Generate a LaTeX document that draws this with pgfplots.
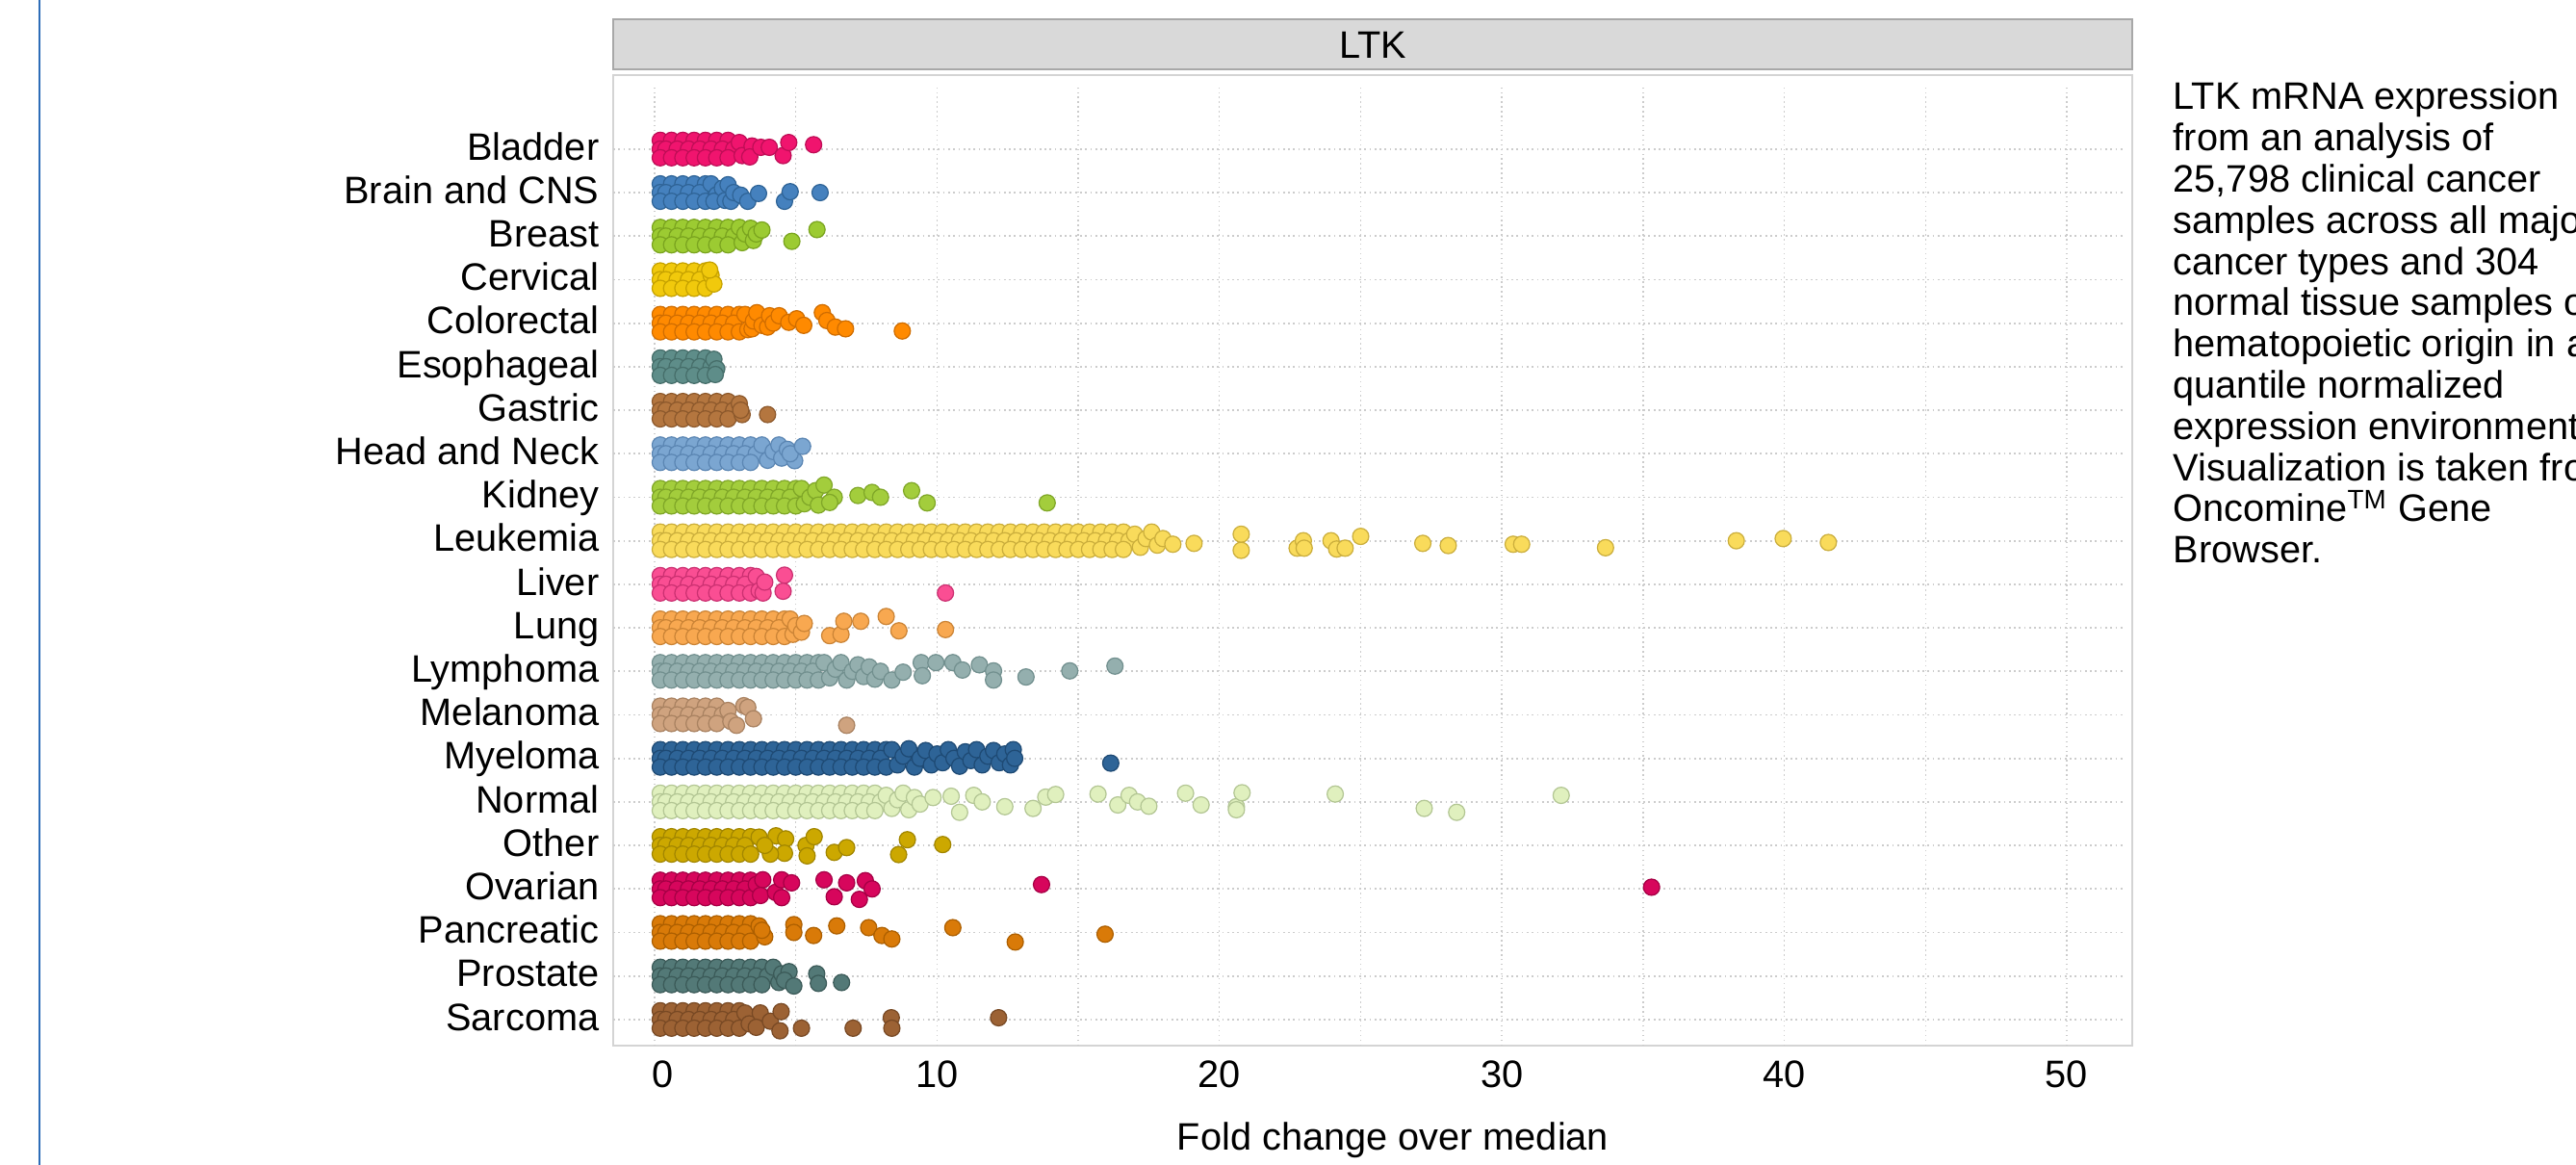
\documentclass[border=0pt]{standalone}
\usepackage{pgfplots}
\pgfplotsset{compat=1.18}
\usepackage{fontspec}
\setmainfont{Liberation Sans}
\definecolor{cBla}{HTML}{F0146E}\definecolor{dBla}{HTML}{BF0D56}
\definecolor{cBra}{HTML}{4581BE}\definecolor{dBra}{HTML}{2F6497}
\definecolor{cBre}{HTML}{9CCB32}\definecolor{dBre}{HTML}{7AA41F}
\definecolor{cCer}{HTML}{F1C90C}\definecolor{dCer}{HTML}{C6A200}
\definecolor{cCol}{HTML}{FF8A00}\definecolor{dCol}{HTML}{D06D00}
\definecolor{cEso}{HTML}{5E8D89}\definecolor{dEso}{HTML}{466E6A}
\definecolor{cGas}{HTML}{B4763F}\definecolor{dGas}{HTML}{8D592C}
\definecolor{cHea}{HTML}{7BA6D1}\definecolor{dHea}{HTML}{5B86B3}
\definecolor{cKid}{HTML}{A3CD3C}\definecolor{dKid}{HTML}{80A728}
\definecolor{cLeu}{HTML}{F9DB5B}\definecolor{dLeu}{HTML}{CBAE3C}
\definecolor{cLiv}{HTML}{FA4E93}\definecolor{dLiv}{HTML}{CB3071}
\definecolor{cLun}{HTML}{F8A850}\definecolor{dLun}{HTML}{CB8436}
\definecolor{cLym}{HTML}{94AFAE}\definecolor{dLym}{HTML}{72908F}
\definecolor{cMel}{HTML}{CFA37F}\definecolor{dMel}{HTML}{A98261}
\definecolor{cMye}{HTML}{2E6497}\definecolor{dMye}{HTML}{1E4A74}
\definecolor{cNor}{HTML}{E0F0BE}\definecolor{dNor}{HTML}{B3C694}
\definecolor{cOth}{HTML}{CCA800}\definecolor{dOth}{HTML}{A28600}
\definecolor{cOva}{HTML}{D7065C}\definecolor{dOva}{HTML}{A60045}
\definecolor{cPan}{HTML}{D97A08}\definecolor{dPan}{HTML}{AD5F00}
\definecolor{cPro}{HTML}{537977}\definecolor{dPro}{HTML}{3B5A58}
\definecolor{cSar}{HTML}{9C6234}\definecolor{dSar}{HTML}{784924}
\definecolor{stripfill}{HTML}{D9D9D9}\definecolor{stripdraw}{HTML}{A8A8A8}
\definecolor{panelborder}{HTML}{D4D4D4}\definecolor{gridc}{HTML}{CCCCCC}
\definecolor{leftblue}{HTML}{2E6DB8}
\pgfplotsset{pt/.style 2 args={only marks, mark=*, mark size=2.4pt, mark options={fill=#1, draw=#2, line width=0.35pt}}}
\begin{document}
\begin{tikzpicture}[font=\fontsize{11.3pt}{12.2pt}\selectfont]
\path[use as bounding box] (0,0) rectangle (267.6mm,121mm);
\draw[leftblue, line width=0.25mm] (4.1mm,0) -- (4.1mm,121mm);
\filldraw[fill=stripfill, draw=stripdraw, line width=0.2mm] (63.7mm,113.8mm) rectangle (221.5mm,118.95mm);
\node[inner sep=0pt] at (142.6mm,116.3mm) {LTK};
\begin{axis}[
  at={(63.7mm,12.4mm)}, anchor=south west, scale only axis,
  width=157.8mm, height=100.8mm,
  xmin=-1.466, xmax=52.32, ymin=-0.6, ymax=21.7,
  axis line style={draw=panelborder, line width=0.2mm},
  xtick={0.3,10,20,30,40,50},
  xticklabels={0,10,20,30,40,50},
  ytick={0,1,...,20},
  yticklabels={Sarcoma,Prostate,Pancreatic,Ovarian,Other,Normal,Myeloma,Melanoma,Lymphoma,Lung,Liver,Leukemia,Kidney,Head and Neck,Gastric,Esophageal,Colorectal,Cervical,Breast,Brain and CNS,Bladder},
  major tick length=0pt, tick style={draw=none},
  xticklabel style={anchor=base, yshift=-4.4mm, inner sep=0pt},
  yticklabel style={anchor=base east, xshift=-1.4mm, yshift=-1.13mm, inner sep=0pt},
]
\pgfplotsinvokeforeach{0,5,10,15,20,25,30,35,40,45,50}{\draw[gridc, densely dotted, line width=0.4pt] (axis cs:#1,-0.6) -- (axis cs:#1,21.43);}
\pgfplotsinvokeforeach{0,1,...,20}{\draw[gridc, densely dotted, line width=0.5pt] (axis cs:-1.466,#1) -- (axis cs:52.0,#1);}
% Bladder
\addplot[pt={cBla}{dBla}] coordinates {(0.2,20.2)(0.6,20.2)(1.0,20.2)(1.4,20.2)(1.8,20.2)(2.2,20.2)(2.6,20.2)
(0.2,20)(0.4,20)(0.8,20)(1.2,20)(1.6,20)(2.0,20)(2.4,20)(2.8,20)
(0.2,19.8)(0.6,19.8)(1.0,19.8)(1.4,19.8)(1.8,19.8)(2.2,19.8)(2.6,19.8)
(3.0,20.15)(3.1,19.85)(3.45,20.07)(3.37,19.82)(3.76,20.04)(4.06,20.04)(4.55,19.85)(4.75,20.15)(5.63,20.1)};
% Brain and CNS
\addplot[pt={cBra}{dBra}] coordinates {(0.2,19.2)(0.6,19.2)(1.0,19.2)(1.4,19.2)(1.8,19.2)
(0.2,19)(0.4,19)(0.8,19)(1.2,19)(1.6,19)
(0.2,18.8)(0.6,18.8)(1.0,18.8)(1.4,18.8)(1.8,18.8)
(2.0,19.2)(2.2,18.95)(2.1,18.8)(2.4,19.1)(2.5,18.82)(2.6,19.18)(2.7,18.8)(2.8,19.0)(3.05,18.94)(3.3,18.8)(3.68,18.98)(4.6,18.8)(4.8,19.02)(5.86,19.0)};
% Breast
\addplot[pt={cBre}{dBre}] coordinates {(0.2,18.2)(0.6,18.2)(1.0,18.2)(1.4,18.2)(1.8,18.2)(2.2,18.2)(2.6,18.2)
(0.2,18)(0.4,18)(0.8,18)(1.2,18)(1.6,18)(2.0,18)(2.4,18)(2.8,18)
(0.2,17.8)(0.6,17.8)(1.0,17.8)(1.4,17.8)(1.8,17.8)(2.2,17.8)(2.6,17.8)
(3.0,18.2)(3.1,17.85)(3.2,18.05)(3.4,18.18)(3.5,17.9)(3.6,18.05)(3.8,18.14)(4.86,17.88)(5.75,18.15)};
% Cervical
\addplot[pt={cCer}{dCer}] coordinates {(0.2,17.2)(0.6,17.2)(1.0,17.2)(1.4,17.2)(1.8,17.2)
(0.2,17)(0.4,17)(0.8,17)(1.2,17)(1.6,17)
(0.2,16.8)(0.6,16.8)(1.0,16.8)(1.4,16.8)(1.8,16.8)
(2.0,17.1)(2.1,16.9)(1.95,17.22)};
% Colorectal
\addplot[pt={cCol}{dCol}] coordinates {(0.2,16.2)(0.6,16.2)(1.0,16.2)(1.4,16.2)(1.8,16.2)(2.2,16.2)(2.6,16.2)(3.0,16.2)
(0.2,16)(0.4,16)(0.8,16)(1.2,16)(1.6,16)(2.0,16)(2.4,16)(2.8,16)
(0.2,15.8)(0.6,15.8)(1.0,15.8)(1.4,15.8)(1.8,15.8)(2.2,15.8)(2.6,15.8)(3.0,15.8)
(3.2,16.2)(3.3,15.85)(3.45,15.87)(3.5,16.05)(3.62,16.24)(3.8,15.95)(4.0,15.91)(4.07,16.17)(4.2,16.0)(4.41,16.17)(4.75,16.02)(5.03,16.1)(5.28,15.95)(5.94,16.24)(6.1,16.06)(6.4,15.91)(6.76,15.87)(8.77,15.82)};
% Esophageal
\addplot[pt={cEso}{dEso}] coordinates {(0.2,15.2)(0.6,15.2)(1.0,15.2)(1.4,15.2)(1.8,15.2)
(0.2,15)(0.4,15)(0.8,15)(1.2,15)(1.6,15)(2.0,15)
(0.2,14.8)(0.6,14.8)(1.0,14.8)(1.4,14.8)(1.8,14.8)
(2.1,15.17)(2.2,14.95)(2.15,14.82)};
% Gastric
\addplot[pt={cGas}{dGas}] coordinates {(0.2,14.2)(0.6,14.2)(1.0,14.2)(1.4,14.2)(1.8,14.2)(2.2,14.2)(2.6,14.2)
(0.2,14)(0.4,14)(0.8,14)(1.2,14)(1.6,14)(2.0,14)(2.4,14)(2.8,14)
(0.2,13.8)(0.6,13.8)(1.0,13.8)(1.4,13.8)(1.8,13.8)(2.2,13.8)(2.6,13.8)
(3.0,14.15)(3.1,13.9)(3.05,14.0)(4.0,13.9)};
% Head and Neck
\addplot[pt={cHea}{dHea}] coordinates {(0.2,13.2)(0.6,13.2)(1.0,13.2)(1.4,13.2)(1.8,13.2)(2.2,13.2)(2.6,13.2)(3.0,13.2)(3.4,13.2)
(0.2,13)(0.4,13)(0.8,13)(1.2,13)(1.6,13)(2.0,13)(2.4,13)(2.8,13)(3.2,13)(3.6,13)
(0.2,12.8)(0.6,12.8)(1.0,12.8)(1.4,12.8)(1.8,12.8)(2.2,12.8)(2.6,12.8)(3.0,12.8)(3.4,12.8)
(3.8,13.2)(4.0,12.85)(4.2,13.05)(4.4,13.2)(4.5,12.9)(4.7,13.1)(4.96,12.84)(4.8,13.0)(5.24,13.17)};
% Kidney
\addplot[pt={cKid}{dKid}] coordinates {(0.2,12.2)(0.6,12.2)(1.0,12.2)(1.4,12.2)(1.8,12.2)(2.2,12.2)(2.6,12.2)(3.0,12.2)(3.4,12.2)(3.8,12.2)(4.2,12.2)(4.6,12.2)(5.0,12.2)
(0.2,12)(0.4,12)(0.8,12)(1.2,12)(1.6,12)(2.0,12)(2.4,12)(2.8,12)(3.2,12)(3.6,12)(4.0,12)(4.4,12)(4.8,12)
(0.2,11.8)(0.6,11.8)(1.0,11.8)(1.4,11.8)(1.8,11.8)(2.2,11.8)(2.6,11.8)(3.0,11.8)(3.4,11.8)(3.8,11.8)(4.2,11.8)(4.6,11.8)(5.0,11.8)
(5.2,12.2)(5.3,11.85)(5.5,12.0)(5.7,12.15)(5.8,11.82)(6.0,12.28)(6.36,12.0)(6.2,11.88)(7.2,12.04)(7.7,12.11)(8.0,12.0)(9.1,12.15)(9.65,11.87)(13.9,11.87)};
% Leukemia
\addplot[pt={cLeu}{dLeu}] coordinates {(0.2,11.2)(0.6,11.2)(1.0,11.2)(1.4,11.2)(1.8,11.2)(2.2,11.2)(2.6,11.2)(3.0,11.2)(3.4,11.2)(3.8,11.2)(4.2,11.2)(4.6,11.2)(5.0,11.2)(5.4,11.2)(5.8,11.2)(6.2,11.2)(6.6,11.2)(7.0,11.2)(7.4,11.2)(7.8,11.2)(8.2,11.2)(8.6,11.2)(9.0,11.2)(9.4,11.2)(9.8,11.2)(10.2,11.2)(10.6,11.2)(11.0,11.2)(11.4,11.2)(11.8,11.2)(12.2,11.2)(12.6,11.2)(13.0,11.2)(13.4,11.2)(13.8,11.2)(14.2,11.2)(14.6,11.2)(15.0,11.2)(15.4,11.2)(15.8,11.2)(16.2,11.2)(16.6,11.2)
(0.2,11)(0.4,11)(0.8,11)(1.2,11)(1.6,11)(2.0,11)(2.4,11)(2.8,11)(3.2,11)(3.6,11)(4.0,11)(4.4,11)(4.8,11)(5.2,11)(5.6,11)(6.0,11)(6.4,11)(6.8,11)(7.2,11)(7.6,11)(8.0,11)(8.4,11)(8.8,11)(9.2,11)(9.6,11)(10.0,11)(10.4,11)(10.8,11)(11.2,11)(11.6,11)(12.0,11)(12.4,11)(12.8,11)(13.2,11)(13.6,11)(14.0,11)(14.4,11)(14.8,11)(15.2,11)(15.6,11)(16.0,11)(16.4,11)(16.8,11)
(0.2,10.8)(0.6,10.8)(1.0,10.8)(1.4,10.8)(1.8,10.8)(2.2,10.8)(2.6,10.8)(3.0,10.8)(3.4,10.8)(3.8,10.8)(4.2,10.8)(4.6,10.8)(5.0,10.8)(5.4,10.8)(5.8,10.8)(6.2,10.8)(6.6,10.8)(7.0,10.8)(7.4,10.8)(7.8,10.8)(8.2,10.8)(8.6,10.8)(9.0,10.8)(9.4,10.8)(9.8,10.8)(10.2,10.8)(10.6,10.8)(11.0,10.8)(11.4,10.8)(11.8,10.8)(12.2,10.8)(12.6,10.8)(13.0,10.8)(13.4,10.8)(13.8,10.8)(14.2,10.8)(14.6,10.8)(15.0,10.8)(15.4,10.8)(15.8,10.8)(16.2,10.8)(16.6,10.8)
(17.0,11.15)(17.2,10.85)(17.4,11.05)(17.6,11.2)(17.8,10.9)(18.0,11.05)(18.35,10.92)(19.1,10.94)(20.77,11.15)(20.77,10.78)(22.75,10.83)(22.97,11.0)(23.0,10.83)(23.95,11.0)(24.15,10.81)(24.45,10.83)(25.0,11.1)(27.2,10.94)(28.1,10.89)(30.4,10.92)(30.7,10.92)(33.67,10.84)(38.3,11.0)(39.96,11.05)(41.56,10.96)};
% Liver
\addplot[pt={cLiv}{dLiv}] coordinates {(0.2,10.2)(0.6,10.2)(1.0,10.2)(1.4,10.2)(1.8,10.2)(2.2,10.2)(2.6,10.2)(3.0,10.2)(3.4,10.2)
(0.2,10)(0.4,10)(0.8,10)(1.2,10)(1.6,10)(2.0,10)(2.4,10)(2.8,10)(3.2,10)
(0.2,9.8)(0.6,9.8)(1.0,9.8)(1.4,9.8)(1.8,9.8)(2.2,9.8)(2.6,9.8)(3.0,9.8)(3.4,9.8)
(3.6,10.18)(3.7,9.85)(3.84,9.8)(3.9,10.05)(4.6,10.21)(4.55,9.84)(10.3,9.8)};
% Lung
\addplot[pt={cLun}{dLun}] coordinates {(0.2,9.2)(0.6,9.2)(1.0,9.2)(1.4,9.2)(1.8,9.2)(2.2,9.2)(2.6,9.2)(3.0,9.2)(3.4,9.2)(3.8,9.2)(4.2,9.2)(4.6,9.2)
(0.2,9)(0.4,9)(0.8,9)(1.2,9)(1.6,9)(2.0,9)(2.4,9)(2.8,9)(3.2,9)(3.6,9)(4.0,9)(4.4,9)
(0.2,8.8)(0.6,8.8)(1.0,8.8)(1.4,8.8)(1.8,8.8)(2.2,8.8)(2.6,8.8)(3.0,8.8)(3.4,8.8)(3.8,8.8)(4.2,8.8)(4.6,8.8)
(4.8,9.2)(4.9,8.85)(5.0,9.05)(5.2,8.9)(5.3,9.1)(6.2,8.82)(6.6,8.85)(6.7,9.15)(7.3,9.15)(8.2,9.26)(8.65,8.93)(10.3,8.96)};
% Lymphoma
\addplot[pt={cLym}{dLym}] coordinates {(0.2,8.2)(0.6,8.2)(1.0,8.2)(1.4,8.2)(1.8,8.2)(2.2,8.2)(2.6,8.2)(3.0,8.2)(3.4,8.2)(3.8,8.2)(4.2,8.2)(4.6,8.2)(5.0,8.2)(5.4,8.2)(5.8,8.2)
(0.2,8)(0.4,8)(0.8,8)(1.2,8)(1.6,8)(2.0,8)(2.4,8)(2.8,8)(3.2,8)(3.6,8)(4.0,8)(4.4,8)(4.8,8)(5.2,8)(5.6,8)
(0.2,7.8)(0.6,7.8)(1.0,7.8)(1.4,7.8)(1.8,7.8)(2.2,7.8)(2.6,7.8)(3.0,7.8)(3.4,7.8)(3.8,7.8)(4.2,7.8)(4.6,7.8)(5.0,7.8)(5.4,7.8)(5.8,7.8)
(6.0,8.2)(6.2,7.85)(6.4,8.05)(6.6,8.2)(6.8,7.8)(7.0,8.0)(7.2,8.15)(7.4,7.88)(7.6,8.1)(7.8,7.82)(8.0,8.0)(8.4,7.8)(8.8,7.98)(9.44,8.2)(9.96,8.2)(9.48,7.9)(10.56,8.2)(10.9,8.03)(11.5,8.15)(12.0,8.01)(12.0,7.8)(13.15,7.87)(14.7,8.01)(16.3,8.12)};
% Melanoma
\addplot[pt={cMel}{dMel}] coordinates {(0.2,7.2)(0.6,7.2)(1.0,7.2)(1.4,7.2)(1.8,7.2)(2.2,7.2)
(0.2,7)(0.4,7)(0.8,7)(1.2,7)(1.6,7)(2.0,7)(2.4,7)
(0.2,6.8)(0.6,6.8)(1.0,6.8)(1.4,6.8)(1.8,6.8)(2.2,6.8)
(2.6,7.1)(2.7,6.85)(3.16,7.21)(3.3,7.17)(2.9,6.76)(3.5,6.91)(6.8,6.76)};
% Myeloma
\addplot[pt={cMye}{dMye}] coordinates {(0.2,6.2)(0.6,6.2)(1.0,6.2)(1.4,6.2)(1.8,6.2)(2.2,6.2)(2.6,6.2)(3.0,6.2)(3.4,6.2)(3.8,6.2)(4.2,6.2)(4.6,6.2)(5.0,6.2)(5.4,6.2)(5.8,6.2)(6.2,6.2)(6.6,6.2)(7.0,6.2)(7.4,6.2)(7.8,6.2)(8.2,6.2)
(0.2,6)(0.4,6)(0.8,6)(1.2,6)(1.6,6)(2.0,6)(2.4,6)(2.8,6)(3.2,6)(3.6,6)(4.0,6)(4.4,6)(4.8,6)(5.2,6)(5.6,6)(6.0,6)(6.4,6)(6.8,6)(7.2,6)(7.6,6)(8.0,6)
(0.2,5.8)(0.6,5.8)(1.0,5.8)(1.4,5.8)(1.8,5.8)(2.2,5.8)(2.6,5.8)(3.0,5.8)(3.4,5.8)(3.8,5.8)(4.2,5.8)(4.6,5.8)(5.0,5.8)(5.4,5.8)(5.8,5.8)(6.2,5.8)(6.6,5.8)(7.0,5.8)(7.4,5.8)(7.8,5.8)(8.2,5.8)
(8.4,6.2)(8.6,5.85)(8.8,6.05)(9.0,6.22)(9.2,5.8)(9.4,6.0)(9.6,6.18)(9.8,5.85)(10.0,6.1)(10.2,5.9)(10.4,6.2)(10.6,6.0)(10.8,5.82)(11.0,6.15)(11.2,5.95)(11.4,6.2)(11.6,5.85)(11.8,6.05)(12.0,6.18)(12.2,5.9)(12.4,6.1)(12.6,5.85)(12.7,6.2)(12.75,6.0)(16.15,5.89)};
% Normal
\addplot[pt={cNor}{dNor}] coordinates {(0.2,5.2)(0.6,5.2)(1.0,5.2)(1.4,5.2)(1.8,5.2)(2.2,5.2)(2.6,5.2)(3.0,5.2)(3.4,5.2)(3.8,5.2)(4.2,5.2)(4.6,5.2)(5.0,5.2)(5.4,5.2)(5.8,5.2)(6.2,5.2)(6.6,5.2)(7.0,5.2)(7.4,5.2)(7.8,5.2)
(0.2,5)(0.4,5)(0.8,5)(1.2,5)(1.6,5)(2.0,5)(2.4,5)(2.8,5)(3.2,5)(3.6,5)(4.0,5)(4.4,5)(4.8,5)(5.2,5)(5.6,5)(6.0,5)(6.4,5)(6.8,5)(7.2,5)(7.6,5)(8.0,5)
(0.2,4.8)(0.6,4.8)(1.0,4.8)(1.4,4.8)(1.8,4.8)(2.2,4.8)(2.6,4.8)(3.0,4.8)(3.4,4.8)(3.8,4.8)(4.2,4.8)(4.6,4.8)(5.0,4.8)(5.4,4.8)(5.8,4.8)(6.2,4.8)(6.6,4.8)(7.0,4.8)(7.4,4.8)(7.8,4.8)
(8.2,5.15)(8.4,4.85)(8.6,5.05)(8.8,5.2)(9.0,4.82)(9.2,5.1)(9.4,4.95)(9.86,5.1)(10.5,5.13)(10.8,4.76)(11.3,5.15)(11.6,5.0)(12.4,4.89)(13.4,4.85)(13.85,5.11)(14.2,5.17)(15.7,5.18)(16.4,4.93)(16.8,5.15)(17.1,5.0)(17.5,4.9)(18.8,5.2)(19.35,4.93)(20.6,4.89)(20.6,4.82)(20.8,5.21)(24.1,5.18)(27.25,4.85)(28.4,4.76)(32.1,5.15)};
% Other
\addplot[pt={cOth}{dOth}] coordinates {(0.2,4.2)(0.6,4.2)(1.0,4.2)(1.4,4.2)(1.8,4.2)(2.2,4.2)(2.6,4.2)(3.0,4.2)(3.4,4.2)
(0.2,4)(0.4,4)(0.8,4)(1.2,4)(1.6,4)(2.0,4)(2.4,4)(2.8,4)(3.2,4)
(0.2,3.8)(0.6,3.8)(1.0,3.8)(1.4,3.8)(1.8,3.8)(2.2,3.8)(2.6,3.8)(3.0,3.8)(3.4,3.8)
(3.7,4.19)(4.3,4.22)(4.64,4.15)(4.6,3.82)(4.1,3.8)(3.9,4.0)(5.36,4.0)(5.65,4.2)(5.4,3.76)(6.36,3.84)(6.8,3.95)(8.95,4.13)(8.64,3.79)(10.2,4.02)};
% Ovarian
\addplot[pt={cOva}{dOva}] coordinates {(0.2,3.2)(0.6,3.2)(1.0,3.2)(1.4,3.2)(1.8,3.2)(2.2,3.2)(2.6,3.2)(3.0,3.2)(3.4,3.2)
(0.2,3)(0.4,3)(0.8,3)(1.2,3)(1.6,3)(2.0,3)(2.4,3)(2.8,3)(3.2,3)
(0.2,2.8)(0.6,2.8)(1.0,2.8)(1.4,2.8)(1.8,2.8)(2.2,2.8)(2.6,2.8)(3.0,2.8)(3.4,2.8)
(3.6,3.1)(3.83,3.21)(3.75,2.85)(4.28,2.92)(4.5,3.21)(4.5,2.8)(4.85,3.14)(6.0,3.21)(6.8,3.14)(7.46,3.19)(7.7,3.0)(6.36,2.82)(7.25,2.76)(13.7,3.1)(35.3,3.04)};
% Pancreatic
\addplot[pt={cPan}{dPan}] coordinates {(0.2,2.2)(0.6,2.2)(1.0,2.2)(1.4,2.2)(1.8,2.2)(2.2,2.2)(2.6,2.2)(3.0,2.2)(3.4,2.2)
(0.2,2)(0.4,2)(0.8,2)(1.2,2)(1.6,2)(2.0,2)(2.4,2)(2.8,2)(3.2,2)
(0.2,1.8)(0.6,1.8)(1.0,1.8)(1.4,1.8)(1.8,1.8)(2.2,1.8)(2.6,1.8)(3.0,1.8)(3.4,1.8)
(3.7,2.15)(3.9,1.9)(3.8,2.05)(4.93,2.18)(4.93,2.0)(5.63,1.93)(6.45,2.15)(7.58,2.11)(8.05,1.93)(8.4,1.85)(10.56,2.11)(12.77,1.78)(15.95,1.96)};
% Prostate
\addplot[pt={cPro}{dPro}] coordinates {(0.2,1.2)(0.6,1.2)(1.0,1.2)(1.4,1.2)(1.8,1.2)(2.2,1.2)(2.6,1.2)(3.0,1.2)(3.4,1.2)(3.8,1.2)
(0.2,1)(0.4,1)(0.8,1)(1.2,1)(1.6,1)(2.0,1)(2.4,1)(2.8,1)(3.2,1)(3.6,1)(4.0,1)
(0.2,0.8)(0.6,0.8)(1.0,0.8)(1.4,0.8)(1.8,0.8)(2.2,0.8)(2.6,0.8)(3.0,0.8)(3.4,0.8)(3.8,0.8)
(4.2,1.2)(4.4,0.85)(4.5,1.05)(4.76,1.1)(4.6,0.9)(5.74,1.05)(5.8,0.83)(4.93,0.77)(6.62,0.85)};
% Sarcoma
\addplot[pt={cSar}{dSar}] coordinates {(0.2,0.2)(0.6,0.2)(1.0,0.2)(1.4,0.2)(1.8,0.2)(2.2,0.2)(2.6,0.2)(3.0,0.2)
(0.2,0)(0.4,0)(0.8,0)(1.2,0)(1.6,0)(2.0,0)(2.4,0)(2.8,0)
(0.2,-0.2)(0.6,-0.2)(1.0,-0.2)(1.4,-0.2)(1.8,-0.2)(2.2,-0.2)(2.6,-0.2)(3.0,-0.2)
(3.2,0.15)(3.35,-0.1)(3.74,0.15)(3.6,-0.18)(4.1,-0.04)(4.48,0.18)(4.44,-0.26)(5.2,-0.2)(7.03,-0.2)(8.38,0.04)(8.4,-0.2)(12.18,0.04)};
\end{axis}
\node[anchor=base, inner sep=0pt] at (144.7mm,1.5mm) {Fold change over median};
\node[anchor=base west, inner sep=0pt] at (225.7mm,109.60mm) {LTK mRNA expression};
\node[anchor=base west, inner sep=0pt] at (225.7mm,105.32mm) {from an analysis of};
\node[anchor=base west, inner sep=0pt] at (225.7mm,101.04mm) {25,798 clinical cancer};
\node[anchor=base west, inner sep=0pt] at (225.7mm,96.76mm) {samples across all major};
\node[anchor=base west, inner sep=0pt] at (225.7mm,92.48mm) {cancer types and 304};
\node[anchor=base west, inner sep=0pt] at (225.7mm,88.20mm) {normal tissue samples of};
\node[anchor=base west, inner sep=0pt] at (225.7mm,83.92mm) {hematopoietic origin in a};
\node[anchor=base west, inner sep=0pt] at (225.7mm,79.64mm) {quantile normalized};
\node[anchor=base west, inner sep=0pt] at (225.7mm,75.36mm) {expression environment.};
\node[anchor=base west, inner sep=0pt] at (225.7mm,71.08mm) {Visualization is taken from};
\node[anchor=base west, inner sep=0pt] at (225.7mm,66.80mm) {Oncomine\textsuperscript{TM} Gene};
\node[anchor=base west, inner sep=0pt] at (225.7mm,62.52mm) {Browser.};
\end{tikzpicture}
\end{document}
